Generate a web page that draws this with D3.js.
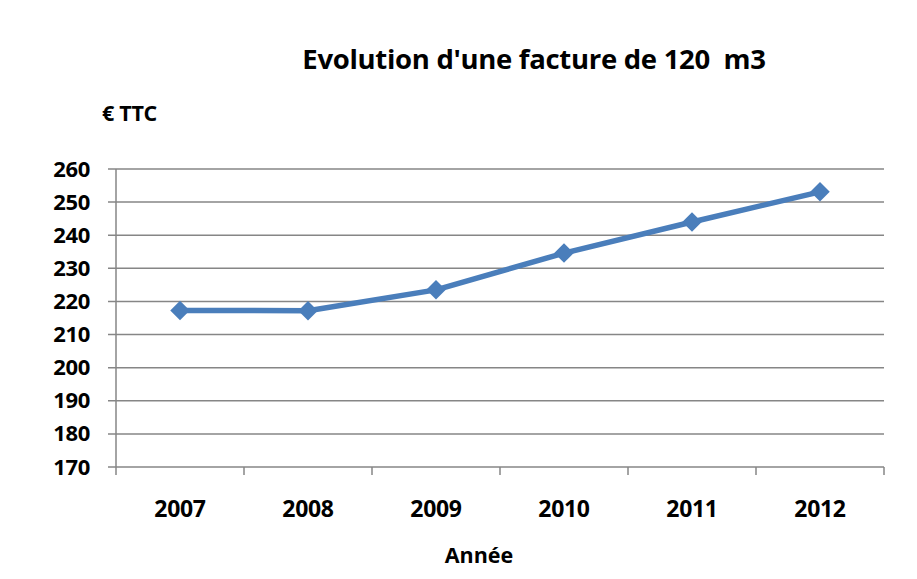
<!DOCTYPE html>
<html>
<head>
<meta charset="utf-8">
<script src="https://cdnjs.cloudflare.com/ajax/libs/d3/7.8.5/d3.min.js"></script>
<style>
    body { margin: 0; background: #fff; }
    text { font-family: "Open Sans", sans-serif; font-weight: bold; fill: #000; }
</style>
</head>
<body>
<div class="chart"></div>
<script>
var years = ["2007", "2008", "2009", "2010", "2011", "2012"];
var values = [217.3, 217.2, 223.5, 234.6, 244.0, 253.1];
var yTicks = [170, 180, 190, 200, 210, 220, 230, 240, 250, 260];

var W = 917, H = 579;
var margin = { top: 169, right: 33, bottom: 112, left: 116 },
    width = W - margin.left - margin.right,
    height = H - margin.top - margin.bottom;

var svg = d3.select(".chart").append("svg")
    .attr("width", W)
    .attr("height", H);

var g = svg.append("g")
    .attr("transform", "translate(" + margin.left + "," + margin.top + ")");

var x = d3.scaleBand().domain(years).range([0, width]);
var y = d3.scaleLinear().domain([170, 260]).range([height, 0]);

// horizontal grid lines (with the small outer tick on the left)
g.selectAll(".grid")
    .data(yTicks)
    .enter().append("line")
    .attr("x1", -8)
    .attr("x2", width)
    .attr("y1", function(d) { return y(d); })
    .attr("y2", function(d) { return y(d); })
    .attr("stroke", "#868686")
    .attr("stroke-width", 1.5);

// y axis line
g.append("line")
    .attr("x1", 0).attr("x2", 0)
    .attr("y1", 0).attr("y2", height)
    .attr("stroke", "#868686")
    .attr("stroke-width", 1.5);

// y labels
g.selectAll(".ylab")
    .data(yTicks)
    .enter().append("text")
    .attr("x", -26)
    .attr("y", function(d) { return y(d) + 7.5; })
    .attr("text-anchor", "end")
    .style("font-size", "22px")
    .style("letter-spacing", "-0.3px")
    .text(function(d) { return d; });

// x ticks at band edges
var edges = years.map(function(d) { return x(d); }).concat([width]);
g.selectAll(".xtick")
    .data(edges)
    .enter().append("line")
    .attr("x1", function(d) { return d; })
    .attr("x2", function(d) { return d; })
    .attr("y1", height)
    .attr("y2", height + 8)
    .attr("stroke", "#868686")
    .attr("stroke-width", 1.5);

g.selectAll(".xlab")
    .data(years)
    .enter().append("text")
    .attr("x", function(d) { return x(d) + x.bandwidth() / 2; })
    .attr("y", height + 50)
    .attr("text-anchor", "middle")
    .style("font-size", "23px")
    .style("letter-spacing", "-0.3px")
    .text(function(d) { return d; });

// series line
var line = d3.line()
    .x(function(d, i) { return x(years[i]) + x.bandwidth() / 2; })
    .y(function(d) { return y(d); });

g.append("path")
    .datum(values)
    .attr("d", line)
    .attr("fill", "none")
    .attr("stroke", "#4A7EBB")
    .attr("stroke-width", 5.5)
    .attr("stroke-linejoin", "round");

var diamond = d3.symbol().type(d3.symbolSquare).size(190);
g.selectAll(".dot")
    .data(values)
    .enter().append("path")
    .attr("d", diamond)
    .attr("transform", function(d, i) {
        return "translate(" + (x(years[i]) + x.bandwidth() / 2) + "," + y(d) + ") rotate(45)";
    })
    .attr("fill", "#4A7EBB");

// titles
svg.append("text")
    .attr("x", 534)
    .attr("y", 69)
    .attr("text-anchor", "middle")
    .attr("xml:space", "preserve")
    .style("font-size", "27.5px")
    .style("letter-spacing", "-0.3px")
    .text("Evolution d'une facture de 120  m3");

svg.append("text")
    .attr("x", 102)
    .attr("y", 121)
    .style("font-size", "21.5px")
    .style("letter-spacing", "-0.3px")
    .text("€ TTC");

svg.append("text")
    .attr("x", 479)
    .attr("y", 563)
    .attr("text-anchor", "middle")
    .style("font-size", "21.5px")
    .text("Année");
</script>
</body>
</html>
